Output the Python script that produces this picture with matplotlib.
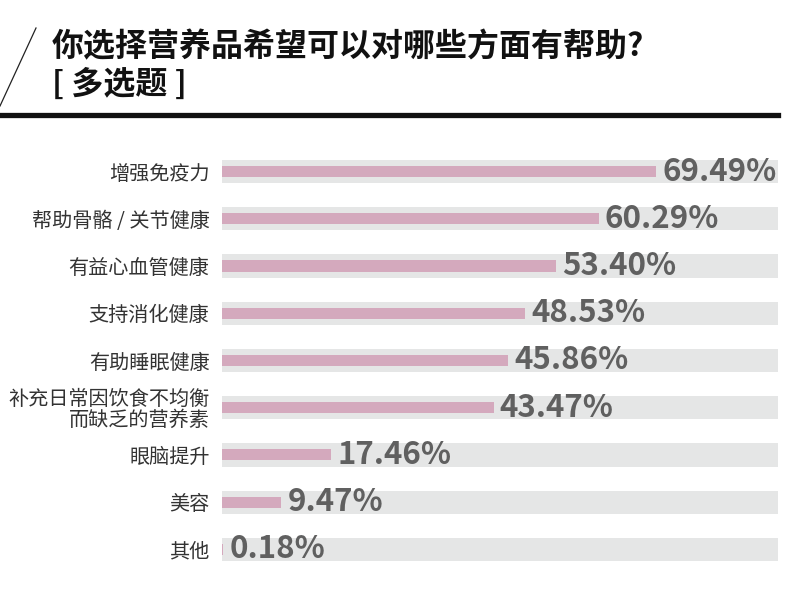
import matplotlib
matplotlib.use("Agg")
import matplotlib.pyplot as plt
from matplotlib.lines import Line2D

plt.rcParams['font.family'] = ['Noto Sans CJK SC', 'DejaVu Sans']

# 数据
categories = ['增强免疫力', '帮助骨骼 / 关节健康', '有益心血管健康', '支持消化健康',
              '有助睡眠健康', '补充日常因饮食不均衡\n而缺乏的营养素', '眼脑提升', '美容', '其他']
values = [69.49, 60.29, 53.40, 48.53, 45.86, 43.47, 17.46, 9.47, 0.18]
labels = ['%.2f%%' % v for v in values]
title1 = '你选择营养品希望可以对哪些方面有帮助?'
title2 = '[ 多选题 ]'

xmax = 89.0
pink = '#d4a9bd'
track = '#e5e6e6'
numcol = '#606060'

fig = plt.figure(figsize=(8, 6.11), dpi=100)
ax = fig.add_axes([0.2775, 0.0622, 0.695, 0.6956])

y = list(range(len(values)))
ax.barh(y, [xmax] * len(values), height=0.49, color=track, zorder=1)
ax.barh(y, values, height=0.235, color=pink, zorder=2)

for i, v in enumerate(values):
    ax.text(v + 1.0, i, labels[i], va='center', ha='left', fontsize=22.5,
            fontweight='bold', color=numcol, zorder=3)

ax.set_xlim(0, xmax)
ax.set_ylim(len(values) - 0.5, -0.5)
ax.set_xticks([])
ax.set_yticks(y)
ax.set_yticklabels(categories, fontsize=14.5, color='#333333', linespacing=1.0)
ax.tick_params(axis='y', length=0, pad=9)
for s in ax.spines.values():
    s.set_visible(False)

# 标题
fig.text(0.065, 1 - 47.5 / 611, title1, fontsize=23, fontweight='heavy', va='center', ha='left', color='#111111')
fig.text(0.065, 1 - 85 / 611, title2, fontsize=23, fontweight='heavy', va='center', ha='left', color='#111111')

# 斜线和粗横线
fig.add_artist(Line2D([36 / 800, 0], [1 - 28 / 611, 1 - 106 / 611], color='#222222', lw=0.9))
fig.add_artist(Line2D([0, 778 / 800], [1 - 115 / 611, 1 - 115 / 611], color='#111111', lw=3.8))

fig.savefig('out.png', dpi=100)
